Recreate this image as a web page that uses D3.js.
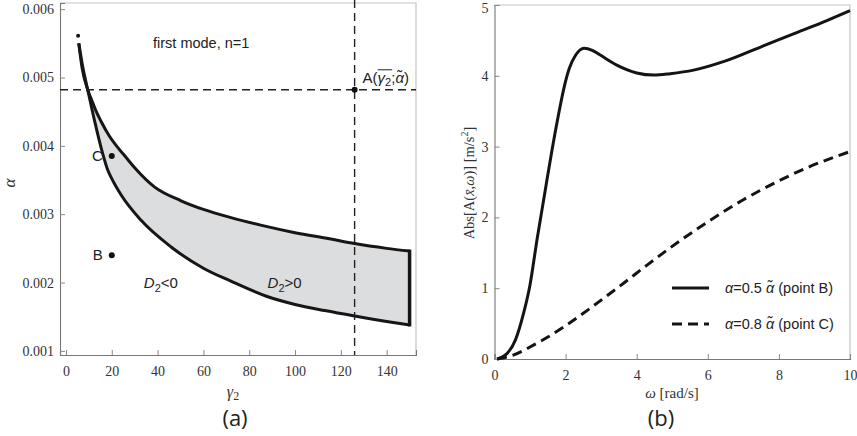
<!DOCTYPE html>
<html lang="en">
<head>
  <meta charset="UTF-8">
  <title>Stability region and acceleration amplitude</title>
  <script src="https://d3js.org/d3.v7.min.js"></script>
  <style>
    body { margin: 0; background: #fff; }
    svg { display: block; }
    .tick text { font-family: "Liberation Serif", "DejaVu Serif", serif; font-size: 14px; fill: #333; }
    .sans { font-family: "Liberation Sans", Arial, sans-serif; }
    .serif { font-family: "Liberation Serif", "DejaVu Serif", serif; }
  </style>
</head>
<body>
  <svg id="chart" width="857" height="436"></svg>

  <script>
    // panel (a): boundaries of the D2>0 region, [gamma2, alpha]
    const upperBoundary = [
      [5.6, 0.00550], [7, 0.00515], [9.5, 0.00482], [11, 0.00469], [13, 0.00452],
      [15.3, 0.00436], [19, 0.00414], [23, 0.00396], [26, 0.00384], [30, 0.00368],
      [38.6, 0.00340], [50, 0.00320], [60, 0.00307], [72, 0.00295], [85, 0.00284],
      [100, 0.00273], [115, 0.00264], [126, 0.00257], [140, 0.00250], [150, 0.00246]
    ];
    const lowerBoundary = [
      [5.6, 0.00550], [7.3, 0.00516], [9.5, 0.00482], [12.4, 0.00438], [16, 0.00389],
      [18.2, 0.00365], [20, 0.00352], [24.1, 0.00328], [32.8, 0.00291], [45.9, 0.00252],
      [60, 0.00221], [72, 0.00202], [87.5, 0.00180], [100, 0.00168], [113, 0.00159],
      [126, 0.00151], [140, 0.00143], [150, 0.00138]
    ];
    const crossingGamma = 9.5;
    const pointA = { gamma: 126, alpha: 0.00482 };
    const markedPoints = [
      { name: "C", gamma: 20, alpha: 0.00385 },
      { name: "B", gamma: 20, alpha: 0.0024 }
    ];
    const tipDot = { gamma: 5.3, alpha: 0.00561 };
    const regionLabels = [
      { sign: "<0", gamma: 34, alpha: 0.00200 },
      { sign: ">0", gamma: 88, alpha: 0.00200 }
    ];
    const gammaTicks = [0, 20, 40, 60, 80, 100, 120, 140];
    const alphaTicks = [0.001, 0.002, 0.003, 0.004, 0.005, 0.006];

    // panel (b): Abs[A] vs omega, [omega, value]
    const seriesB = [
      [0.07, 0], [0.36, 0.08], [0.59, 0.27], [0.82, 0.65], [1.0, 1.05], [1.2, 1.7],
      [1.4, 2.3], [1.6, 2.9], [1.8, 3.45], [1.95, 3.82], [2.1, 4.1], [2.28, 4.29],
      [2.52, 4.39], [2.75, 4.36], [2.95, 4.30], [3.44, 4.15], [4.0, 4.04], [4.48, 4.01],
      [4.94, 4.03], [5.6, 4.08], [6.5, 4.21], [7.5, 4.41], [8.5, 4.61], [9.35, 4.78],
      [10, 4.92]
    ];
    const seriesC = [
      [0.07, 0], [0.5, 0.05], [1.0, 0.17], [1.5, 0.31], [2.0, 0.47], [2.7, 0.72],
      [3.63, 1.07], [4.3, 1.33], [4.94, 1.57], [6.07, 1.96], [7.0, 2.25], [7.47, 2.38],
      [8.88, 2.72], [10, 2.93]
    ];
    const omegaTicks = [0, 2, 4, 6, 8, 10];
    const ampTicks = [0, 1, 2, 3, 4, 5];
    const legendItems = [
      { coef: "0.5", point: "B", dash: null },
      { coef: "0.8", point: "C", dash: "10,6" }
    ];

    const svg = d3.select("#chart");

    function frame(x, y, color) {
      svg.append("path")
        .attr("d", `M${x.range()[0]},${y.range()[1]}H${x.range()[1]}V${y.range()[0]}`)
        .attr("fill", "none").attr("stroke", color).attr("stroke-width", 1.2);
    }

    function axes(x, y, xt, yt, xMinor, yMinor, yFmt) {
      const gx = svg.append("g").attr("transform", `translate(0,${y.range()[0]})`);
      gx.call(d3.axisBottom(x).tickValues(xMinor).tickSize(-2.5).tickFormat(""));
      gx.call(d3.axisBottom(x).tickValues(xt).tickSize(-5).tickPadding(11).tickFormat(d3.format("d")));
      const gy = svg.append("g").attr("transform", `translate(${x.range()[0]},0)`);
      gy.call(d3.axisLeft(y).tickValues(yMinor).tickSize(-2.5).tickFormat(""));
      gy.call(d3.axisLeft(y).tickValues(yt).tickSize(-5).tickPadding(6).tickFormat(yFmt));
      svg.selectAll(".domain").attr("stroke", "#777").attr("stroke-width", 1.1);
      svg.selectAll(".tick line").attr("stroke", "#888");
      return gy;
    }

    // ---------- panel (a) ----------
    const xA = d3.scaleLinear().domain([-2.6, 152.8]).range([60, 416]);
    const yA = d3.scaleLinear().domain([0.00094, 0.00609]).range([355, 3]);

    // shaded band: region above the lower boundary, clipped to the region below the upper one
    const upSeg = upperBoundary.filter(d => d[0] >= crossingGamma);
    const loSeg = lowerBoundary.filter(d => d[0] >= crossingGamma);
    const underUpper = d3.area().x(d => xA(d[0])).y0(yA.range()[0]).y1(d => yA(d[1]))
      .curve(d3.curveMonotoneX);
    const overLower = d3.area().x(d => xA(d[0])).y0(yA.range()[1]).y1(d => yA(d[1]))
      .curve(d3.curveMonotoneX);
    svg.append("clipPath").attr("id", "band-clip")
      .append("path").attr("d", underUpper(upSeg));
    svg.append("path").attr("d", overLower(loSeg))
      .attr("clip-path", "url(#band-clip)").attr("fill", "#dcdddf");

    frame(xA, yA, "#c4c4c4");
    axes(xA, yA, gammaTicks, alphaTicks,
      d3.range(0, 151, 5), d3.range(0.001, 0.0061, 0.0002), d3.format(".3f"));

    const lineA = d3.line().x(d => xA(d[0])).y(d => yA(d[1])).curve(d3.curveMonotoneX);
    [upperBoundary, lowerBoundary].forEach(b => {
      svg.append("path").attr("d", lineA(b))
        .attr("fill", "none").attr("stroke", "#161616").attr("stroke-width", 3);
    });
    const endU = upperBoundary[upperBoundary.length - 1];
    const endL = lowerBoundary[lowerBoundary.length - 1];
    svg.append("line")
      .attr("x1", xA(endU[0])).attr("x2", xA(endL[0]))
      .attr("y1", yA(endU[1]) - 1.5).attr("y2", yA(endL[1]) + 1.5)
      .attr("stroke", "#161616").attr("stroke-width", 3.5);

    svg.append("circle").attr("cx", xA(tipDot.gamma)).attr("cy", yA(tipDot.alpha))
      .attr("r", 2).attr("fill", "#161616");

    // dashed guides through A
    svg.append("line")
      .attr("x1", xA.range()[0]).attr("x2", xA.range()[1])
      .attr("y1", yA(pointA.alpha)).attr("y2", yA(pointA.alpha))
      .attr("stroke", "#222").attr("stroke-width", 1.4).attr("stroke-dasharray", "8,5");
    svg.append("line")
      .attr("x1", xA(pointA.gamma)).attr("x2", xA(pointA.gamma))
      .attr("y1", 0).attr("y2", yA.range()[0])
      .attr("stroke", "#222").attr("stroke-width", 1.4).attr("stroke-dasharray", "8,5");

    svg.append("circle").attr("cx", xA(pointA.gamma)).attr("cy", yA(pointA.alpha))
      .attr("r", 3).attr("fill", "#111");
    const aLabel = svg.append("text").attr("class", "sans")
      .attr("x", xA(pointA.gamma) + 8).attr("y", yA(pointA.alpha) - 7)
      .attr("font-size", 15).attr("fill", "#222");
    aLabel.append("tspan").text("A(");
    aLabel.append("tspan").attr("font-style", "italic").text("γ");
    aLabel.append("tspan").attr("font-size", 11).attr("dy", 3).text("2");
    aLabel.append("tspan").attr("dy", -3).text(";");
    aLabel.append("tspan").attr("font-style", "italic").text("α̃");
    aLabel.append("tspan").text(")");
    // overline over gamma2
    const tNode = aLabel.node();
    const ox0 = tNode.getStartPositionOfChar(2).x;
    const ox1 = tNode.getEndPositionOfChar(3).x;
    svg.append("line")
      .attr("x1", ox0).attr("x2", ox1 + 1)
      .attr("y1", yA(pointA.alpha) - 20).attr("y2", yA(pointA.alpha) - 20)
      .attr("stroke", "#222").attr("stroke-width", 1);

    markedPoints.forEach(p => {
      svg.append("circle").attr("cx", xA(p.gamma)).attr("cy", yA(p.alpha))
        .attr("r", 3).attr("fill", "#111");
      svg.append("text").attr("class", "sans")
        .attr("x", xA(p.gamma) - 9).attr("y", yA(p.alpha) + 5)
        .attr("text-anchor", "end").attr("font-size", 15).attr("fill", "#222")
        .text(p.name);
    });

    regionLabels.forEach(r => {
      const t = svg.append("text").attr("class", "sans")
        .attr("x", xA(r.gamma)).attr("y", yA(r.alpha) + 5)
        .attr("font-size", 15).attr("fill", "#222");
      t.append("tspan").attr("font-style", "italic").text("D");
      t.append("tspan").attr("font-size", 11).attr("dy", 4).text("2");
      t.append("tspan").attr("dy", -4).text(r.sign);
    });

    svg.append("text").attr("class", "sans")
      .attr("x", 153).attr("y", 48).attr("font-size", 14.5).attr("fill", "#222")
      .text("first mode, n=1");

    svg.append("text").attr("class", "serif")
      .attr("transform", "translate(15,183) rotate(-90)")
      .attr("text-anchor", "middle").attr("font-size", 17).attr("font-style", "italic")
      .attr("fill", "#333").text("α");
    const gLab = svg.append("text").attr("class", "serif")
      .attr("x", 233).attr("y", 397).attr("text-anchor", "middle")
      .attr("font-size", 16).attr("fill", "#333");
    gLab.append("tspan").attr("font-style", "italic").text("γ");
    gLab.append("tspan").attr("font-size", 12).attr("dy", 3).text("2");

    svg.append("text").attr("x", 235).attr("y", 426).attr("text-anchor", "middle")
      .attr("font-family", "'Open Sans', 'DejaVu Sans', sans-serif").attr("font-size", 22)
      .attr("fill", "#222").text("(a)");

    // ---------- panel (b) ----------
    const xB = d3.scaleLinear().domain([0, 10]).range([494.5, 850]);
    const yB = d3.scaleLinear().domain([0, 5]).range([359, 5]);

    frame(xB, yB, "#c4c4c4");
    const gyB = axes(xB, yB, omegaTicks, ampTicks,
      d3.range(0, 10.01, 0.5), d3.range(0, 5.01, 0.2), d3.format("d"));
    // keep the top label inside the page
    gyB.selectAll(".tick text").filter(d => d === 5).attr("dy", "0.55em");

    const lineB = d3.line().x(d => xB(d[0])).y(d => yB(d[1])).curve(d3.curveMonotoneX);
    svg.append("path").attr("d", lineB(seriesB))
      .attr("fill", "none").attr("stroke", "#141414").attr("stroke-width", 3);
    svg.append("path").attr("d", lineB(seriesC))
      .attr("fill", "none").attr("stroke", "#141414").attr("stroke-width", 3)
      .attr("stroke-dasharray", "10,6");

    legendItems.forEach((it, i) => {
      const y = 288 + i * 36;
      svg.append("line").attr("x1", 672).attr("x2", 709).attr("y1", y).attr("y2", y)
        .attr("stroke", "#141414").attr("stroke-width", 3)
        .attr("stroke-dasharray", it.dash);
      const t = svg.append("text").attr("class", "sans")
        .attr("x", 725).attr("y", y + 5).attr("font-size", 14.5).attr("fill", "#222");
      t.append("tspan").attr("font-style", "italic").text("α");
      t.append("tspan").text(`=${it.coef} `);
      t.append("tspan").attr("font-style", "italic").text("α̃");
      t.append("tspan").text(` (point ${it.point})`);
    });

    const yLab = svg.append("text").attr("class", "serif")
      .attr("transform", "translate(474,183) rotate(-90)")
      .attr("text-anchor", "middle").attr("font-size", 14.5).attr("fill", "#333");
    yLab.append("tspan").text("Abs[A(");
    yLab.append("tspan").attr("font-style", "italic").text("x̄");
    yLab.append("tspan").text(",");
    yLab.append("tspan").attr("font-style", "italic").text("ω");
    yLab.append("tspan").text(")] [m/s");
    yLab.append("tspan").attr("font-size", 10).attr("dy", -6).text("2");
    yLab.append("tspan").attr("dy", 6).text("]");

    const wLab = svg.append("text").attr("class", "serif")
      .attr("x", 672).attr("y", 398).attr("text-anchor", "middle")
      .attr("font-size", 15).attr("fill", "#333");
    wLab.append("tspan").attr("font-style", "italic").text("ω");
    wLab.append("tspan").text(" [rad/s]");

    svg.append("text").attr("x", 661).attr("y", 426).attr("text-anchor", "middle")
      .attr("font-family", "'Open Sans', 'DejaVu Sans', sans-serif").attr("font-size", 22)
      .attr("fill", "#222").text("(b)");
  </script>
</body>
</html>
